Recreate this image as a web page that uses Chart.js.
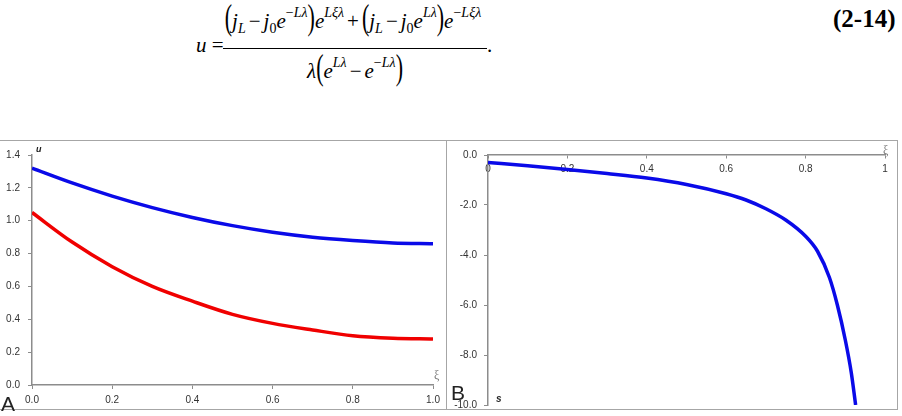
<!DOCTYPE html>
<html><head><meta charset="utf-8">
<script src="https://cdn.jsdelivr.net/npm/chart.js@4"></script>
<style>
html,body{margin:0;padding:0;background:#fff}
body{width:902px;height:416px;position:relative;overflow:hidden}
.eq{position:absolute;white-space:nowrap;font-family:"Liberation Serif",serif;font-size:21px;line-height:22px;color:#000}
.eq i{font-style:italic}
.eq sup{font-size:14px;line-height:0;vertical-align:11px}
.eq sub{font-size:14px;line-height:0;vertical-align:-5px}
.eq .op{margin:0 3px}
.big{display:inline-block;line-height:22px;font-size:22px;transform:translateY(-3px) scaleY(1.6)}
.frame{position:absolute;border:1px solid #a6a6a6;box-sizing:border-box}
canvas{position:absolute}
.lbl{position:absolute;white-space:nowrap;line-height:1}
</style>
</head><body>

<div class="eq" style="left:196px;top:34px"><i>u</i> =</div>
<div class="eq" style="left:212px;top:10px;width:282px;text-align:center"><span class="big">(</span><i>j</i><sub><i>L</i></sub><span class="op">−</span><i>j</i><sub>0</sub><i>e</i><sup>−<i>L</i><i>λ</i></sup><span class="big">)</span><i>e</i><sup><i>L</i><i>ξ</i><i>λ</i></sup><span class="op">+</span><span class="big">(</span><i>j</i><sub><i>L</i></sub><span class="op">−</span><i>j</i><sub>0</sub><i>e</i><sup><i>L</i><i>λ</i></sup><span class="big">)</span><i>e</i><sup>−<i>L</i><i>ξ</i><i>λ</i></sup></div>
<div style="position:absolute;left:223px;top:48px;width:264px;height:1px;background:#000"></div>
<div class="eq" style="left:487px;top:34px">.</div>
<div class="eq" style="left:214px;top:60px;width:282px;text-align:center"><i>λ</i><span class="big">(</span><i>e</i><sup><i>L</i><i>λ</i></sup><span class="op">−</span><i>e</i><sup>−<i>L</i><i>λ</i></sup><span class="big">)</span></div>
<div class="eq" style="left:833px;top:6px;font-weight:bold;font-size:25px;line-height:25px">(2-14)</div>

<div class="frame" style="left:-2px;top:140px;width:449px;height:270px"></div>
<div class="frame" style="left:446px;top:140px;width:452px;height:270px"></div>

<canvas id="cA" width="446" height="268" style="left:0;top:141px"></canvas>
<canvas id="cB" width="449" height="277" style="left:447px;top:141px"></canvas>

<div class="lbl" style="left:36px;top:144px;font:bold italic 9px 'Liberation Sans',sans-serif;color:#222">u</div>
<div class="lbl" style="left:434px;top:368px;font:12px 'Liberation Serif',serif;color:#777">ξ</div>
<div class="lbl" style="left:1px;top:392px;font:21px 'Liberation Sans',sans-serif;color:#222">A</div>
<div class="lbl" style="left:883px;top:143px;font:12px 'Liberation Serif',serif;color:#777">ξ</div>
<div class="lbl" style="left:496px;top:393px;font:bold italic 10px 'Liberation Sans',sans-serif;color:#222">s</div>
<div class="lbl" style="left:451px;top:381px;font:21px 'Liberation Sans',sans-serif;color:#222">B</div>

<script>
// ---- Panel A data ----
const xiA   = [0, 0.1, 0.2, 0.3, 0.4, 0.5, 0.6, 0.7, 0.8, 0.9, 1.0];
const uBlue = [1.32, 1.23, 1.15, 1.08, 1.02, 0.97, 0.93, 0.90, 0.88, 0.865, 0.86];
const uRed  = [1.05, 0.87, 0.72, 0.60, 0.51, 0.43, 0.375, 0.335, 0.30, 0.285, 0.28];
const xTicksA = [0, 0.2, 0.4, 0.6, 0.8, 1.0];
const yTicksA = [0, 0.2, 0.4, 0.6, 0.8, 1.0, 1.2, 1.4];

// ---- Panel B data ----
const xiB = [0, 0.1, 0.2, 0.3, 0.4, 0.5, 0.6, 0.65, 0.7, 0.75, 0.8, 0.83, 0.86, 0.88, 0.9, 0.915, 0.926];
const sB  = [-0.3, -0.43, -0.58, -0.74, -0.92, -1.18, -1.55, -1.8, -2.15, -2.6, -3.25, -3.85, -4.9, -6.0, -7.4, -8.7, -10.0];
const xTicksB = [0, 0.2, 0.4, 0.6, 0.8, 1];
const yTicksB = [0, -2, -4, -6, -8, -10];

const AX = '#8c8c8c';
const TF = {family:'Liberation Sans', size:10};
function pts(xs, ys){ return xs.map((x,i)=>({x, y:ys[i]})); }
function setTicks(arr){ return s => { s.ticks = arr.map(v=>({value:v})); }; }
const base = {responsive:false, animation:false, events:[], plugins:{legend:{display:false}, tooltip:{enabled:false}}};

new Chart(document.getElementById('cA'), {
  type:'scatter',
  data:{datasets:[
    {data:pts(xiA,uBlue), showLine:true, borderColor:'#0a0ae8', borderWidth:3.5, pointRadius:0, cubicInterpolationMode:'monotone'},
    {data:pts(xiA,uRed), showLine:true, borderColor:'#f00000', borderWidth:3.5, pointRadius:0, cubicInterpolationMode:'monotone'}
  ]},
  options:Object.assign({}, base, {
    layout:{padding:{top:13, right:13, left:0, bottom:0}},
    scales:{
      x:{type:'linear', min:0, max:1, afterBuildTicks:setTicks(xTicksA), afterFit:s=>{s.height=24;},
         grid:{drawOnChartArea:false, tickLength:4, color:AX}, border:{color:AX, width:1.5},
         ticks:{color:'#333', font:TF, padding:5, maxRotation:0, callback:v=>v.toFixed(1)}},
      y:{type:'linear', min:0, max:1.4, afterBuildTicks:setTicks(yTicksA), afterFit:s=>{s.width=32;},
         grid:{drawOnChartArea:false, tickLength:4, color:AX}, border:{color:AX, width:1.5},
         ticks:{color:'#333', font:TF, padding:8, callback:v=>v.toFixed(1)}}
    }
  })
});

new Chart(document.getElementById('cB'), {
  type:'scatter',
  data:{datasets:[
    {data:pts(xiB,sB), showLine:true, borderColor:'#0a0ae8', borderWidth:3.5, pointRadius:0, cubicInterpolationMode:'monotone'}
  ]},
  options:Object.assign({}, base, {
    layout:{padding:{top:14, right:11, left:0, bottom:5}},
    scales:{
      x:{type:'linear', min:0, max:1, position:{y:0}, afterBuildTicks:setTicks(xTicksB), afterFit:s=>{s.height=0;},
         grid:{drawOnChartArea:false, tickLength:3, color:AX}, border:{color:AX, width:1.5},
         ticks:{color:'#333', font:TF, padding:5, maxRotation:0, callback:v=>(v===0?'0':v===1?'1':v.toFixed(1))}},
      y:{type:'linear', min:-10, max:0, afterBuildTicks:setTicks(yTicksB), afterFit:s=>{s.width=41;},
         grid:{drawOnChartArea:false, tickLength:4, color:AX}, border:{color:AX, width:1.5},
         ticks:{color:'#333', font:TF, padding:7, callback:v=>v.toFixed(1)}}
    }
  })
});
</script>
</body></html>
